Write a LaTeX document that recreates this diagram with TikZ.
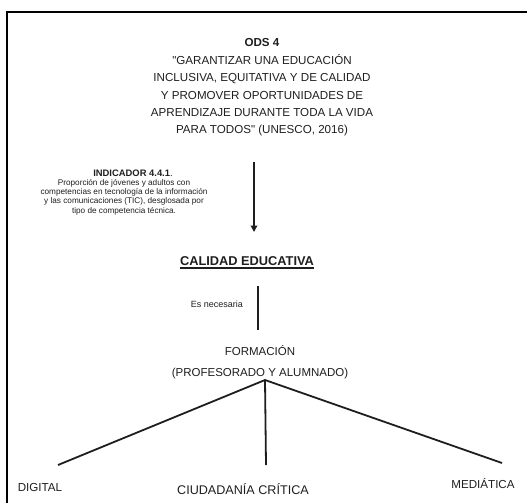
\documentclass[tikz,border=0pt]{standalone}
\usepackage{fontspec}
\setmainfont{Liberation Sans}[Ligatures=TeXOff]
\usetikzlibrary{arrows.meta}
\definecolor{ink}{HTML}{1E1E1E}
\begin{document}
\begin{tikzpicture}[x=1pt,y=-1pt,
  txt/.style={inner sep=0pt, align=center, text=ink},
  bigtxt/.style={txt, font=\fontsize{11.6}{17.4}\selectfont},
  smalltxt/.style={txt, font=\fontsize{8.2}{9.3}\selectfont},
  frameline/.style={line width=2pt, black},
  conn/.style={line width=1.8pt, ink},
]
\useasboundingbox (0,0) rectangle (527,503);

% open frame: left and top edges
\draw[frameline] (7,503) -- (7,12) -- (527,12);

% goal statement
\node[bigtxt] (ods) at (262,87.5) {\textbf{ODS 4}\\
"GARANTIZAR UNA EDUCACIÓN\\
INCLUSIVA, EQUITATIVA Y DE CALIDAD\\
Y PROMOVER OPORTUNIDADES DE\\
APRENDIZAJE DURANTE TODA LA VIDA\\
PARA TODOS" (UNESCO, 2016)};

% indicator note
\node[txt, font=\bfseries\fontsize{9.4}{10}\selectfont] (indt) at (133,173) {INDICADOR 4.4.1\mdseries.};
\node[smalltxt] (ind) at (124,197) {Proporción de jóvenes y adultos con\\
competencias en tecnología de la información\\
y las comunicaciones (TIC), desglosada por\\
tipo de competencia técnica.};

\coordinate (a1) at (254,162);
\coordinate (a2) at (254,232);
\draw[conn,-{Triangle[length=6.5pt,width=6.5pt]}] (a1) -- (a2);

% quality of education
\node[txt, font=\bfseries\fontsize{12.8}{15}\selectfont] (cal) at (247,261) {CALIDAD EDUCATIVA};
\draw[line width=1.2pt, ink] ([yshift=-2.2pt]cal.south west) -- ([yshift=-2.2pt]cal.south east);

\coordinate (b1) at (258,286);
\coordinate (b2) at (258,330);
\draw[conn] (b1) -- (b2);
\node[txt, font=\fontsize{9}{10}\selectfont, anchor=east] (nec) at (243,304) {Es necesaria};

% training
\node[bigtxt, font=\fontsize{11.5}{20.5}\selectfont] (form) at (260,362) {FORMACIÓN\\(PROFESORADO Y ALUMNADO)};

\coordinate (apex) at (265,380);
\coordinate (l1) at (58,465);
\coordinate (l2) at (266,465);
\coordinate (l3) at (502,463);
\draw[conn] (l1) -- (apex) -- (l3);
\draw[conn] (apex) -- (l2);

% branches
\node[bigtxt] (dig) at (40,488) {DIGITAL};
\node[txt, font=\fontsize{12.6}{15}\selectfont] (ciu) at (243,489) {CIUDADANÍA CRÍTICA};
\node[bigtxt] (med) at (483,484) {MEDIÁTICA};
\end{tikzpicture}
\end{document}
